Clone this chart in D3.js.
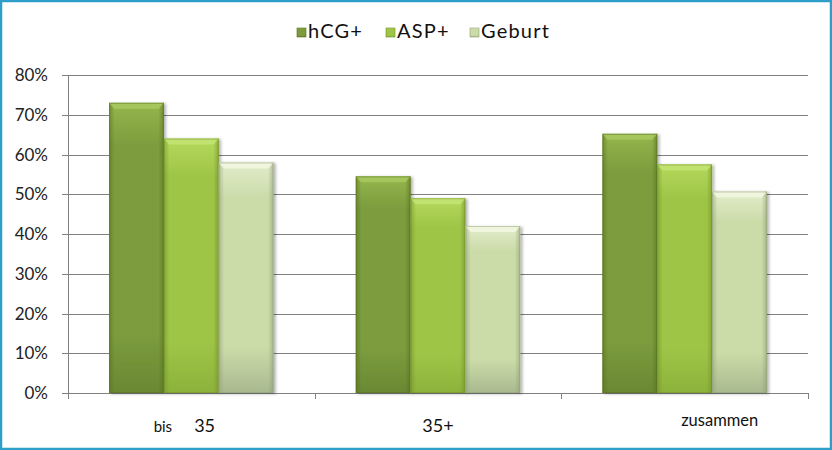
<!DOCTYPE html>
<html>
<head>
<meta charset="utf-8">
<script src="https://cdn.jsdelivr.net/npm/d3@7/dist/d3.min.js"></script>
<style>
  html, body { margin: 0; padding: 0; background: #fff; }
  svg { display: block; }
</style>
</head>
<body>
<svg id="chart" width="832" height="450"></svg>
<script>
// ---- data ----
const categories = ["bis 35", "35+", "zusammen"];
const seriesNames = ["hCG+", "ASP+", "Geburt"];
const hcgValues = [0.73, 0.545, 0.652];
const aspValues = [0.64, 0.49, 0.575];
const geburtValues = [0.58, 0.42, 0.507];
const yTicks = [0, 0.1, 0.2, 0.3, 0.4, 0.5, 0.6, 0.7, 0.8];

const seriesValues = [hcgValues, aspValues, geburtValues];
const palette = [
  { top: "#95b54c", mid: "#7c9c3e", bot: "#6a8832", edge: "#55701f", hi: "#a8c860" },
  { top: "#b4d85c", mid: "#9fc547", bot: "#8db23b", edge: "#6f9028", hi: "#c4e474" },
  { top: "#e2eccb", mid: "#cbdca9", bot: "#a9b98f", edge: "#8f9e76", hi: "#f2f8e0" }
];

const W = 832, H = 450;
const margin = { left: 68, right: 24, top: 75, bottom: 57 };
const svg = d3.select("#chart");

// border
svg.append("rect").attr("x", 1).attr("y", 1).attr("width", W - 2).attr("height", H - 2)
  .attr("fill", "#fff").attr("stroke", "#2e9fc9").attr("stroke-width", 2.5);

const x0 = d3.scaleBand().domain(categories).range([margin.left, W - margin.right]).padding(0);
const x1 = d3.scaleBand().domain(seriesNames).range([0, x0.bandwidth()]).paddingInner(0).paddingOuter(0.75);
const y = d3.scaleLinear().domain([0, 0.8]).range([H - margin.bottom, margin.top]);

const defs = svg.append("defs");
palette.forEach((p, i) => {
  const g = defs.append("linearGradient").attr("id", "grad" + i)
    .attr("x1", 0).attr("y1", 0).attr("x2", 0).attr("y2", 1);
  g.append("stop").attr("offset", "0%").attr("stop-color", p.top);
  g.append("stop").attr("offset", "15%").attr("stop-color", p.mid);
  g.append("stop").attr("offset", "80%").attr("stop-color", p.mid);
  g.append("stop").attr("offset", "100%").attr("stop-color", p.bot);
  const h = defs.append("linearGradient").attr("id", "side" + i)
    .attr("x1", 0).attr("y1", 0).attr("x2", 1).attr("y2", 0);
  h.append("stop").attr("offset", "0%").attr("stop-color", p.edge).attr("stop-opacity", 0.55);
  h.append("stop").attr("offset", "10%").attr("stop-color", p.edge).attr("stop-opacity", 0);
  h.append("stop").attr("offset", "90%").attr("stop-color", p.edge).attr("stop-opacity", 0);
  h.append("stop").attr("offset", "100%").attr("stop-color", p.edge).attr("stop-opacity", 0.6);
});
const shadow = defs.append("filter").attr("id", "shadow").attr("x", "-20%").attr("y", "-10%")
  .attr("width", "140%").attr("height", "120%");
shadow.append("feDropShadow").attr("dx", 2).attr("dy", 1).attr("stdDeviation", 1.5)
  .attr("flood-color", "#000").attr("flood-opacity", 0.3);

// gridlines
const grid = svg.append("g");
grid.selectAll("line").data(yTicks).join("line")
  .attr("x1", margin.left - 6).attr("x2", W - margin.right)
  .attr("y1", d => Math.round(y(d)) + 0.5).attr("y2", d => Math.round(y(d)) + 0.5)
  .attr("stroke", "#808080").attr("stroke-width", 1);

// y axis line
svg.append("line").attr("x1", margin.left + 0.5).attr("x2", margin.left + 0.5)
  .attr("y1", y(0.8)).attr("y2", y(0) + 6).attr("stroke", "#808080");

// x ticks
const bounds = categories.map(c => x0(c)).concat([x0(categories[categories.length - 1]) + x0.bandwidth()]);
svg.append("g").selectAll("line").data(bounds).join("line")
  .attr("x1", d => Math.round(d) + 0.5).attr("x2", d => Math.round(d) + 0.5)
  .attr("y1", y(0)).attr("y2", y(0) + 6).attr("stroke", "#808080");

// y labels
svg.append("g").selectAll("text").data(yTicks).join("text")
  .attr("x", 48).attr("y", d => y(d) + 6)
  .attr("text-anchor", "end")
  .attr("font-family", "Lato, 'Open Sans', sans-serif").attr("font-size", 17)
  .attr("fill", "#222")
  .text(d => d3.format(".0%")(d));

// bars
const groups = svg.append("g").selectAll("g").data(categories).join("g")
  .attr("transform", c => `translate(${x0(c)},0)`);
groups.each(function (c, ci) {
  const g = d3.select(this);
  seriesNames.forEach((s, si) => {
    const v = seriesValues[si][ci];
    const bx = x1(s), bw = x1.bandwidth();
    const by = y(v), bh = y(0) - y(v);
    const p = palette[si];
    const bar = g.append("g").attr("filter", "url(#shadow)");
    bar.append("rect").attr("x", bx).attr("y", by).attr("width", bw).attr("height", bh)
      .attr("fill", `url(#grad${si})`);
    bar.append("rect").attr("x", bx).attr("y", by).attr("width", bw).attr("height", bh)
      .attr("fill", `url(#side${si})`);
    // top bevel
    bar.append("path")
      .attr("d", `M${bx},${by} L${bx + bw},${by} L${bx + bw - 5},${by + 6} L${bx + 5},${by + 6} Z`)
      .attr("fill", p.hi).attr("opacity", 0.85);
    bar.append("rect").attr("x", bx + 0.5).attr("y", by + 0.5).attr("width", bw - 1).attr("height", bh - 1)
      .attr("fill", "none").attr("stroke", p.edge).attr("stroke-opacity", 0.5);
  });
});

// category labels
const labelFont = "Lato, 'Open Sans', sans-serif";
const labelDx = [-7, 0, 35];
svg.append("g").selectAll("text").data(categories).join("text")
  .attr("x", (c, i) => x0(c) + x0.bandwidth() / 2 + labelDx[i])
  .attr("y", 432)
  .attr("text-anchor", "middle")
  .attr("font-family", labelFont)
  .attr("fill", "#111")
  .each(function (c, i) {
    const t = d3.select(this);
    if (c === "bis 35") {
      t.append("tspan").attr("font-size", 15).text("bis");
      t.append("tspan").attr("font-size", 18).attr("dx", 22).text("35");
    } else if (c === "zusammen") {
      t.attr("font-size", 16.5).attr("y", 426).text(c);
    } else {
      t.attr("font-size", 18).text(c);
    }
  });

// legend
const legendX = [297, 386, 470];
const legend = svg.append("g");
seriesNames.forEach((s, i) => {
  const lg = legend.append("g").attr("transform", `translate(${legendX[i]},28)`);
  lg.append("rect").attr("width", 9).attr("height", 9).attr("fill", `url(#grad${i})`)
    .attr("stroke", palette[i].edge).attr("stroke-width", 0.6);
  lg.append("text").attr("x", 11).attr("y", 9.5)
    .attr("font-family", labelFont).attr("font-size", 20).attr("fill", "#111")
    .attr("letter-spacing", 1.2)
    .text(s);
});
</script>
</body>
</html>
